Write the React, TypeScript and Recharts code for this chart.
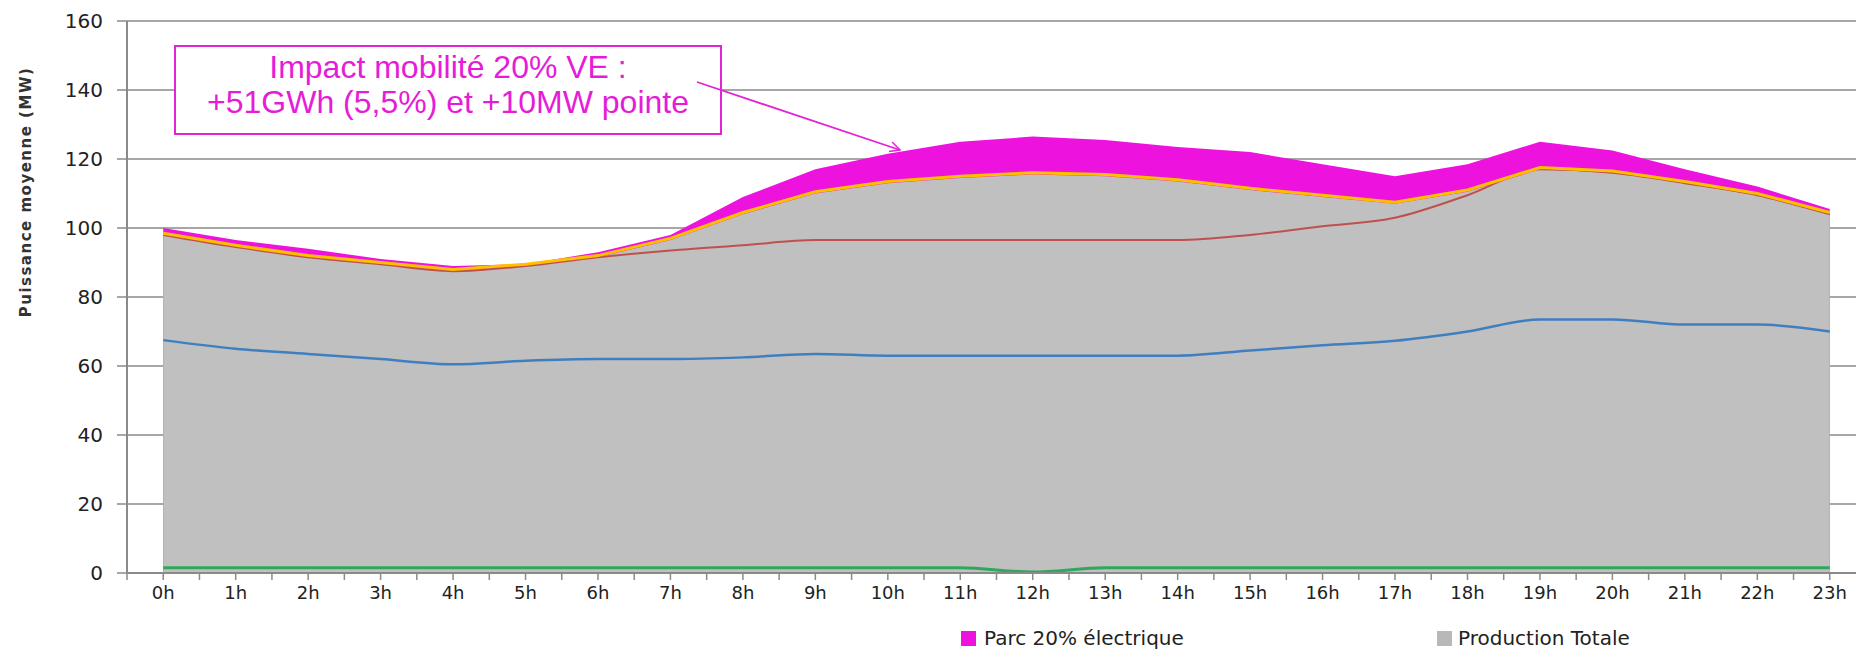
import React from 'react';
import {
  AreaChart,
  Area,
  Line,
  XAxis,
  YAxis,
  CartesianGrid,
} from 'recharts';

// heures de la journée
const hours = [0, 1, 2, 3, 4, 5, 6, 7, 8, 9, 10, 11, 12, 13, 14, 15, 16, 17, 18, 19, 20, 21, 22, 23];
const yTicks = [0, 20, 40, 60, 80, 100, 120, 140, 160];

// Parc 20% électrique (consommation totale avec VE)
const parcElectrique = [100, 96.5, 94, 91, 89, 89.5, 93, 98, 109, 117, 121.5, 125, 126.5, 125.5, 123.5, 122, 118.5, 115, 118.5, 125, 122.5, 117, 112, 105.5];
// Production Totale
const productionTotale = [98, 94.5, 91.5, 89.5, 87.5, 89, 91.5, 96.5, 104, 110, 113, 114.5, 115.5, 115, 113.5, 111, 109, 107, 110.5, 117, 116, 113, 109.5, 104];
// courbes sans légende
const courbeJaune = [98.5, 95, 92, 90, 88, 89.5, 92, 97, 104.5, 110.5, 113.5, 115, 116, 115.5, 114, 111.5, 109.5, 107.5, 111, 117.5, 116.5, 113.5, 110, 104.5];
const courbeRouge = [98, 94.5, 91.5, 89.5, 87.5, 89, 91.5, 93.5, 95, 96.5, 96.5, 96.5, 96.5, 96.5, 96.5, 98, 100.5, 103, 109.5, 117, 116, 113, 109.5, 104];
const courbeBleue = [67.5, 65, 63.5, 62, 60.5, 61.5, 62, 62, 62.5, 63.5, 63, 63, 63, 63, 63, 64.5, 66, 67.3, 70, 73.5, 73.5, 72, 72, 70];
const courbeVerte = [1.5, 1.5, 1.5, 1.5, 1.5, 1.5, 1.5, 1.5, 1.5, 1.5, 1.5, 1.5, 0.3, 1.5, 1.5, 1.5, 1.5, 1.5, 1.5, 1.5, 1.5, 1.5, 1.5, 1.5];

const data = hours.map((h, i) => ({
  h,
  parc: parcElectrique[i],
  prod: productionTotale[i],
  jaune: courbeJaune[i],
  rouge: courbeRouge[i],
  bleu: courbeBleue[i],
  vert: courbeVerte[i],
}));

// tick marks every half hour, labels only on the hour
const xTicks = hours.flatMap((h) => [h - 0.5, h]).concat(23.5);

const MAGENTA = '#EE12DE';
const GRID = '#8a8a8a';

export default function App() {
  return (
    <div style={{ position: 'absolute', left: 0, top: 0, width: 1856, height: 652, overflow: 'hidden', background: '#fff' }}>
      <AreaChart width={1866} height={652} data={data} margin={{ top: 21, right: 0, bottom: 49, left: 0 }}>
        <CartesianGrid vertical={false} stroke={GRID} strokeWidth={1.5} />
        <XAxis
          dataKey="h"
          type="number"
          domain={[-0.5, 23.5]}
          ticks={xTicks}
          interval={0}
          height={30}
          tickSize={7}
          tickMargin={6}
          axisLine={{ stroke: GRID, strokeWidth: 2 }}
          tickLine={{ stroke: GRID, strokeWidth: 1.5 }}
          tick={{ fill: '#222', fontSize: 18, fontFamily: 'DejaVu Sans' }}
          tickFormatter={(v: number) => (Number.isInteger(v) ? `${v}h` : '')}
        />
        <YAxis
          domain={[0, 160]}
          ticks={yTicks}
          width={127}
          tickSize={10}
          tickMargin={14}
          axisLine={{ stroke: GRID, strokeWidth: 2 }}
          tickLine={{ stroke: GRID, strokeWidth: 1.5 }}
          tick={{ fill: '#222', fontSize: 20, fontFamily: 'DejaVu Sans' }}
        />
        <Area type="linear" dataKey="parc" stroke="none" strokeWidth={0} fill={MAGENTA} fillOpacity={1} dot={false} activeDot={false} isAnimationActive={false} />
        <Area type="linear" dataKey="prod" stroke="none" strokeWidth={0} fill="#c0c0c0" fillOpacity={1} dot={false} activeDot={false} isAnimationActive={false} />
        <Line type="monotone" dataKey="rouge" stroke="#c0504d" strokeWidth={2} dot={false} activeDot={false} isAnimationActive={false} />
        <Line type="linear" dataKey="jaune" stroke="#ffc000" strokeWidth={3} dot={false} activeDot={false} isAnimationActive={false} />
        <Line type="monotone" dataKey="bleu" stroke="#3f7fc0" strokeWidth={2.5} dot={false} activeDot={false} isAnimationActive={false} />
        <Line type="monotone" dataKey="vert" stroke="#2ea85a" strokeWidth={3} dot={false} activeDot={false} isAnimationActive={false} />
      </AreaChart>

      {/* annotation */}
      <div
        style={{
          position: 'absolute',
          left: 174,
          top: 45,
          width: 548,
          height: 90,
          boxSizing: 'border-box',
          border: '2px solid #e024d6',
          background: '#fff',
          color: '#e51cd8',
          fontFamily: 'Liberation Sans, Arial, sans-serif',
          fontSize: 32,
          lineHeight: '35px',
          textAlign: 'center',
          paddingTop: 3,
        }}
      >
        <div>Impact mobilité 20% VE :</div>
        <div>+51GWh (5,5%) et +10MW pointe</div>
      </div>

      <svg width={1856} height={652} style={{ position: 'absolute', left: 0, top: 0, pointerEvents: 'none' }}>
        <defs>
          <marker id="head" viewBox="0 0 12 12" refX="11" refY="6" markerWidth="12" markerHeight="12" orient="auto" markerUnits="userSpaceOnUse">
            <path d="M1,1 L11,6 L1,11" fill="none" stroke="#e024d6" strokeWidth={1.5} />
          </marker>
        </defs>
        <line x1={697} y1={82} x2={900} y2={150} stroke="#e024d6" strokeWidth={1.8} markerEnd="url(#head)" />
        <text
          x={26}
          y={192}
          transform="rotate(-90 26 192)"
          textAnchor="middle"
          dominantBaseline="central"
          fontFamily="DejaVu Sans"
          fontWeight="bold"
          fontSize={15}
          letterSpacing={1.5}
          fill="#333"
        >
          Puissance moyenne  (MW)
        </text>
      </svg>

      {/* légende */}
      <div style={{ position: 'absolute', top: 627, left: 961, display: 'flex', alignItems: 'center', fontFamily: 'DejaVu Sans', fontSize: 20, lineHeight: '22px', color: '#222' }}>
        <span style={{ display: 'inline-block', width: 15, height: 15, background: MAGENTA, marginRight: 8 }} />
        <span>Parc 20% électrique</span>
      </div>
      <div style={{ position: 'absolute', top: 627, left: 1437, display: 'flex', alignItems: 'center', fontFamily: 'DejaVu Sans', fontSize: 20, lineHeight: '22px', color: '#222' }}>
        <span style={{ display: 'inline-block', width: 15, height: 15, background: '#b8b8b8', marginRight: 6 }} />
        <span>Production Totale</span>
      </div>
    </div>
  );
}
